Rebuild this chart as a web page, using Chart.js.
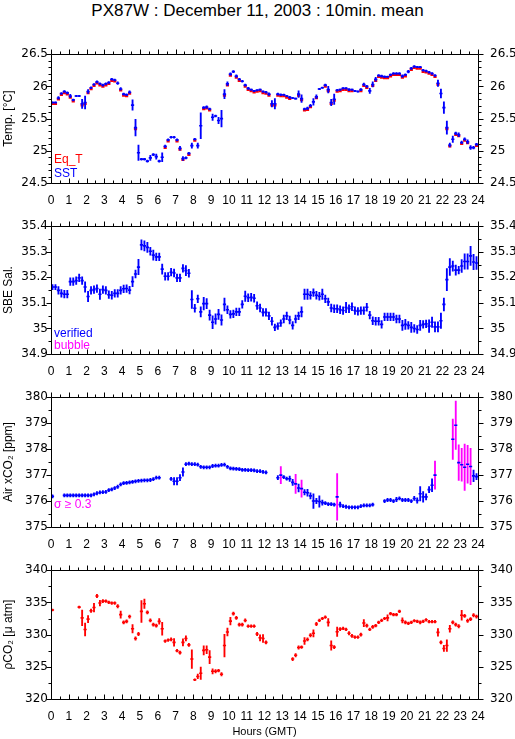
<!DOCTYPE html>
<html>
<head>
<meta charset="utf-8">
<title>PX87W : December 11, 2003 : 10min. mean</title>
<script src="https://cdn.jsdelivr.net/npm/chart.js@4.4.1/dist/chart.umd.min.js"></script>
<style>
  body { margin: 0; background: #fff; width: 515px; height: 739px; position: relative; overflow: hidden; }
  canvas { position: absolute; left: 0; }
  #title { position: absolute; left: 0; top: 1px; width: 515px; text-align: center;
           font: 17px "Liberation Sans", Arial, sans-serif; color: #000; }
</style>
</head>
<body>
<div id="title">PX87W : December 11, 2003 : 10min. mean</div>
<canvas id="tempChart" width="515" height="176" style="top:35px"></canvas>
<canvas id="salChart" width="515" height="175" style="top:207px"></canvas>
<canvas id="xco2Chart" width="515" height="177" style="top:378px"></canvas>
<canvas id="pco2Chart" width="515" height="188" style="top:551px"></canvas>
<script>
// 10 minute means, 144 slots over the day (null = no data)
const hoursPerSlot = 1 / 6;

// SST [degC]
const sst = [
  25.75, 25.75, 25.82, 25.89, 25.92, 25.90, 25.85, 25.79, 25.85, 25.85, 25.73, 25.75,
  25.92, 25.98, 26.03, 26.07, 26.04, 26.02, 26.04, 26.06, 26.11, 26.10, 26.05, 25.96,
  25.88, 25.87, 25.91, 25.71, 25.36, 24.97, 24.87, 24.87, 24.84, 24.89, 24.94, 24.91,
  24.84, 24.90, 25.07, 25.17, 25.21, 25.21, 25.17, 25.04, 24.88, 24.89, 24.96, 25.08,
  25.18, 25.08, 25.39, 25.67, 25.68, 25.65, 25.52, 25.54, 25.47, 25.50, 25.88, 26.04,
  26.19, 26.23, 26.16, 26.11, 26.08, 26.02, 25.97, 25.95, 25.93, 25.94, 25.95, 25.92,
  25.91, 25.88, 25.73, 25.73, 25.88, 25.87, 25.87, 25.85, 25.83, 25.82, 25.81, 25.88,
  25.81, 25.65, 25.66, 25.70, 25.76, 25.84, 25.96, 25.98, 26.02, 25.95, 25.75, 25.80,
  25.94, 25.95, 25.97, 25.97, 25.95, 25.95, 25.93, 25.92, 25.95, 26.03, 26.00, 25.93,
  26.03, 26.11, 26.17, 26.16, 26.15, 26.15, 26.18, 26.20, 26.20, 26.20, 26.16, 26.18,
  26.23, 26.28, 26.31, 26.30, 26.30, 26.25, 26.24, 26.22, 26.20, 26.17, 26.05, 25.89,
  25.67, 25.36, 25.09, 25.18, 25.27, 25.25, 25.13, 25.18, 25.14, 25.05, 25.05, 25.10
];
const sstErr = [
  .01, .01, .02, .015, .015, .015, .025, .015, .01, .01, .07, .10,
  .03, .015, .015, .015, .015, .015, .015, .015, .015, .015, .02, .02,
  .015, .015, .02, .08, .13, .12, .015, .015, .015, .04, .015, .04,
  .015, .07, .02, .015, .015, .015, .015, .03, .03, .015, .015, .04,
  .015, .04, .20, .015, .02, .015, .05, .015, .05, .13, .07, .03,
  .02, .015, .02, .015, .015, .015, .015, .01, .01, .01, .01, .01,
  .015, .02, .05, .08, .015, .015, .01, .01, .015, .01, .01, .05,
  .06, .015, .02, .02, .05, .03, .01, .01, .015, .05, .05, .08,
  .015, .01, .01, .01, .015, .01, .01, .01, .015, .02, .015, .04,
  .04, .03, .015, .015, .015, .01, .015, .015, .015, .015, .02, .015,
  .02, .015, .015, .01, .01, .015, .015, .015, .015, .015, .05, .07,
  .09, .10, .03, .05, .02, .03, .02, .02, .03, .03, .02, .015
];
// equilibrator temperature [degC]
const eqT = [
  25.73, 25.73, 25.80, 25.87, 25.90, 25.88, 25.83, 25.77, null, null, 25.71, 25.73,
  25.90, 25.96, 26.01, 26.05, 26.02, 26.00, 26.02, 26.04, 26.09, 26.08, null, 25.94,
  25.86, 25.85, 25.89, null, 25.34, null, null, null, null, null, null, null,
  null, null, 25.05, 25.15, null, null, 25.15, 25.02, 24.86, null, 24.94, null,
  25.16, null, null, 25.65, 25.66, 25.63, null, null, null, null, 25.86, 26.02,
  26.17, null, 26.14, 26.09, null, 26.00, 25.95, 25.93, 25.91, 25.92, 25.93, 25.90,
  25.89, 25.86, 25.71, 25.71, 25.86, 25.85, 25.85, 25.83, 25.81, null, null, 25.86,
  25.79, 25.63, 25.64, 25.68, null, 25.82, null, null, 26.00, 25.93, 25.73, 25.78,
  25.92, 25.93, 25.95, 25.95, 25.93, 25.93, null, null, 25.93, 26.01, 25.98, null,
  26.01, 26.09, 26.15, 26.14, 26.13, 26.13, 26.16, 26.18, 26.18, 26.18, 26.14, 26.16,
  null, 26.26, 26.29, 26.28, 26.28, 26.23, 26.22, 26.20, 26.18, 26.15, 26.03, null,
  null, 25.34, 25.07, null, 25.25, 25.23, 25.11, 25.16, 25.12, null, null, 25.08
];

// SBE salinity
const sal = [
  35.162, 35.162, 35.149, 35.137, 35.134, 35.134, 35.183, 35.183, 35.187, 35.198, 35.187, 35.162,
  35.125, 35.149, 35.152, 35.156, 35.134, 35.152, 35.149, 35.132, 35.130, 35.137, 35.137, 35.149,
  35.155, 35.156, 35.150, 35.183, 35.213, 35.240, 35.327, 35.323, 35.317, 35.302, 35.287, 35.280,
  35.280, 35.232, 35.204, 35.204, 35.220, 35.217, 35.198, 35.198, 35.235, 35.226, 35.216, 35.113,
  35.079, 35.116, 35.065, 35.097, 35.097, 35.052, 35.024, 35.037, 35.055, 35.033, 35.094, 35.073,
  35.055, 35.057, 35.065, 35.065, 35.094, 35.126, 35.120, 35.122, 35.118, 35.089, 35.080, 35.063,
  35.063, 35.049, 35.028, 35.004, 35.009, 35.021, 35.037, 35.049, 35.033, 35.012, 35.037, 35.049,
  35.065, 35.134, 35.134, 35.130, 35.140, 35.130, 35.126, 35.134, 35.116, 35.104, 35.080, 35.077,
  35.077, 35.073, 35.070, 35.082, 35.077, 35.085, 35.070, 35.067, 35.070, 35.070, 35.083, 35.052,
  35.030, 35.028, 35.028, 35.016, 35.045, 35.045, 35.045, 35.045, 35.037, 35.037, 35.012, 35.016,
  35.012, 35.004, 35.000, 34.996, 35.012, 35.016, 35.018, 35.009, 35.024, 35.006, 35.006, 35.030,
  35.094, 35.191, 35.240, 35.244, 35.228, 35.228, 35.244, 35.262, 35.262, 35.284, 35.260, 35.256
];
const salErr = [
  .01, .01, .015, .015, .015, .015, .015, .015, .015, .015, .015, .02,
  .02, .015, .015, .015, .02, .015, .015, .015, .015, .015, .015, .015,
  .015, .015, .015, .02, .015, .03, .02, .02, .02, .015, .02, .015,
  .015, .02, .015, .015, .015, .015, .015, .015, .015, .02, .015, .035,
  .015, .015, .02, .025, .02, .02, .025, .02, .02, .02, .025, .015,
  .015, .015, .015, .015, .015, .02, .015, .015, .015, .015, .015, .015,
  .015, .015, .015, .013, .013, .013, .015, .015, .015, .015, .015, .015,
  .02, .02, .02, .015, .015, .015, .015, .02, .015, .015, .015, .015,
  .015, .015, .015, .02, .015, .015, .015, .015, .015, .015, .015, .015,
  .015, .015, .015, .015, .015, .015, .015, .015, .015, .015, .02, .02,
  .015, .02, .015, .015, .02, .015, .015, .025, .02, .02, .02, .03,
  .025, .043, .033, .02, .02, .015, .025, .03, .03, .037, .03, .025
];

// Air xCO2 [ppm]
const xco2 = [
  376.18, null, null, null, 376.22, 376.22, 376.22, 376.22, 376.22, 376.22, 376.22, 376.22,
  376.22, 376.22, 376.26, 376.30, 376.33, 376.34, 376.35, 376.42, 376.45, 376.50, 376.55, 376.64,
  376.69, 376.70, 376.72, 376.74, 376.76, 376.78, 376.79, 376.80, 376.80, 376.81, 376.84, 376.90,
  376.90, null, null, null, 376.85, 376.76, 376.76, 376.90, 377.12, 377.42, 377.44, 377.42,
  377.42, 377.40, 377.32, 377.30, 377.30, 377.30, 377.35, 377.36, 377.36, 377.39, 377.40, 377.32,
  377.26, 377.25, 377.24, 377.23, 377.20, 377.20, 377.19, 377.19, 377.18, 377.15, 377.15, 377.12,
  377.10, null, null, null, 376.90, 377.00, 376.92, 376.86, 376.86, 376.72, 376.66, 376.50,
  376.48, 376.34, 376.32, 376.20, 376.00, 376.00, 375.98, 375.94, 375.92, 375.88, 375.88, 375.86,
  376.16, 375.86, 375.80, 375.78, 375.76, 375.76, 375.76, 375.76, 375.80, 375.83, 375.83, 375.83,
  375.86, null, null, null, 376.00, 376.04, 376.04, 376.00, 376.06, 376.10, 376.04, 376.04,
  376.04, 376.00, 376.10, 376.02, 376.28, 376.16, 376.16, 376.44, 376.61, 377.00, null, null,
  null, null, null, 378.38, 378.92, 377.48, 377.40, 377.30, 377.42, 377.33, 376.97, 376.94
];
const xco2Err = [
  .06, null, null, null, .06, .06, .06, .06, .06, .06, .06, .06,
  .06, .06, .06, .06, .06, .06, .06, .06, .06, .06, .06, .06,
  .06, .06, .06, .06, .06, .06, .06, .06, .06, .06, .06, .06,
  .06, null, null, null, .06, .14, .14, .12, .16, .06, .06, .06,
  .06, .06, .06, .06, .06, .06, .06, .06, .06, .06, .06, .06,
  .06, .06, .06, .06, .06, .06, .06, .06, .06, .06, .06, .06,
  .06, null, null, null, .08, .33, .06, .06, .10, .12, .37, .15,
  .33, .10, .13, .12, .28, .10, .22, .10, .06, .06, .06, .06,
  .90, .10, .06, .06, .06, .06, .06, .06, .06, .06, .06, .06,
  .06, null, null, null, .06, .06, .06, .06, .08, .06, .06, .06,
  .06, .06, .08, .10, .28, .20, .12, .12, .25, .54, null, null,
  null, null, null, .78, .93, .69, .63, .89, .73, .70, .22, .12
];
const sigmaLimit = 0.3;

// pCO2 [uatm]
const pco2 = [
  333.83, null, null, null, null, null, null, null, null, 334.26, 332.6, 330.8,
  332.4, 333.7, 334.2, 336.0, 334.9, 335.2, 335.2, 335.0, 334.9, 334.9, 334.4, 333.1,
  331.9, 332.05, 332.8, 330.9, 329.4, 330.1, 333.6, 334.8, 333.45, 332.2, 331.55, 331.4,
  332.05, 330.9, 329.0, 329.15, 329.25, 328.8, 327.5, 327.2, 328.8, 329.4, 328.4, 326.2,
  323.0, 323.5, 324.0, 327.55, 327.65, 326.5, 324.3, 324.3, 324.4, 323.85, 328.3, 330.4,
  332.1, 333.25, 332.6, 331.55, 331.55, 332.2, 331.3, 331.3, 331.3, 330.1, 329.5, 329.4,
  328.8, null, null, null, null, null, null, null, null, 326.2, 326.8, 328.0,
  328.05, 329.0, 329.25, 329.9, 330.2, 331.65, 332.2, 332.5, 332.7, 331.9, 328.3, 328.05,
  330.45, 330.85, 330.95, 330.8, 330.2, 329.8, 329.6, 329.6, 330.0, 331.8, 331.4, 330.8,
  331.2, 331.4, 331.9, 332.2, 332.5, 332.6, 333.25, 333.1, 333.1, 333.6, 332.2, 331.9,
  331.75, 331.9, 332.15, 332.05, 331.9, 332.05, 332.3, 332.0, 332.0, 332.0, 330.35, 328.8,
  327.85, 328.3, 330.9, 331.9, 331.55, 331.3, 333.0, 332.9, 332.15, 332.4, 333.0, 332.8
];
const pco2Err = [
  .15, null, null, null, null, null, null, null, null, .15, 1.2, 1.0,
  .55, .25, .67, .25, .43, .25, .2, .2, .2, .2, .25, .55,
  .25, .25, .25, .65, .25, .25, 1.7, .72, .25, .25, .25, .25,
  .43, 1.0, .2, .2, .25, .6, .2, .25, .55, .4, .25, 1.45,
  .15, .36, .96, .72, .6, 1.0, .4, .25, .2, .25, 1.76, .6,
  .6, .25, .25, .25, .25, .25, .2, .2, .2, .25, .48, .6,
  .25, null, null, null, null, null, null, null, null, .25, .25, .25,
  .2, .53, .25, .25, .55, .25, .2, .2, .2, .6, .72, .25,
  .72, .25, .2, .2, .25, .25, .2, .2, .25, .55, .25, .2,
  .25, .2, .2, .2, .2, .48, .2, .2, .2, .2, .4, .25,
  .2, .2, .2, .2, .25, .2, .2, .2, .2, .2, .6, .25,
  .48, .9, .53, .25, .25, .25, .77, .25, .25, .25, .25, .25
];

const blue = '#0000ff';
const red = '#ff0000';
const magenta = '#ff00ff';
const yTickFont = { family: 'DejaVu Sans', size: 12 };
const xTickFont = { family: 'Liberation Sans', size: 12 };
const labelFont = { family: 'Liberation Sans', size: 12 };

function slotHour(k) {
  return (k + 0.5) * hoursPerSlot;
}

function dashPoints(values) {
  let pts = [];
  values.forEach((v, k) => {
    if (v !== null) pts.push({ x: slotHour(k), y: v });
  });
  return pts;
}

function errorBars(values, errs) {
  let bars = [];
  values.forEach((v, k) => {
    if (v !== null) bars.push({ x: slotHour(k), y: [v - errs[k], v + errs[k]], s: errs[k] });
  });
  return bars;
}

// the 10 minute mean as a short flat dash
function dashSet(values, color, width) {
  return {
    type: 'scatter',
    data: dashPoints(values),
    pointStyle: 'line',
    pointRadius: 1.6,
    pointBorderWidth: width || 1.6,
    borderColor: color,
    backgroundColor: color,
    showLine: false
  };
}

// standard deviation as a thin floating bar
function errorSet(values, errs, color) {
  return {
    type: 'bar',
    data: errorBars(values, errs),
    backgroundColor: color,
    borderWidth: 0,
    barThickness: 1.2,
    maxBarThickness: 1.2,
    grouped: false
  };
}

// 26.0 -> "26", 35.0 -> "35"
function plainNumber(value) {
  return String(parseFloat(Number(value).toFixed(3)));
}

// frame, tick marks and the small legend texts
const frameTicks = {
  id: 'frameTicks',
  afterDraw(chart, args, opts) {
    const { ctx, chartArea: a, scales } = chart;
    const x = scales.x, y = scales.y;
    const left = Math.round(a.left) + 0.5, right = Math.round(a.right) + 0.5;
    const top = Math.round(a.top) + 0.5, bottom = Math.round(a.bottom) + 0.5;
    ctx.save();
    ctx.strokeStyle = '#000';
    ctx.lineWidth = 1;
    ctx.beginPath();
    ctx.rect(left, top, right - left, bottom - top);
    for (let i = 0; i <= 48; i++) {
      const px = Math.round(x.getPixelForValue(i / 2)) + 0.5;
      const len = i % 2 === 0 ? 5 : 3;
      ctx.moveTo(px, bottom); ctx.lineTo(px, bottom - len);
      ctx.moveTo(px, top); ctx.lineTo(px, top - len);
    }
    const n = Math.round((y.max - y.min) / opts.minor);
    const every = Math.round(opts.major / opts.minor);
    for (let i = 0; i <= n; i++) {
      const py = Math.round(y.getPixelForValue(y.min + i * opts.minor)) + 0.5;
      const len = i % every === 0 ? 5 : 3;
      ctx.moveTo(left - len, py); ctx.lineTo(left, py);
      ctx.moveTo(right, py); ctx.lineTo(right + len, py);
    }
    ctx.stroke();
    ctx.font = '12px "Liberation Sans", Arial, sans-serif';
    ctx.textBaseline = 'alphabetic';
    (opts.notes || []).forEach(note => {
      ctx.fillStyle = note.color;
      ctx.fillText(note.text, a.left + 3, a.bottom + note.dy);
    });
    ctx.restore();
  }
};

function makeChart(id, p) {
  const yCommon = {
    type: 'linear',
    min: p.min,
    max: p.max,
    grid: { display: false, drawTicks: false },
    border: { display: false }
  };
  return new Chart(document.getElementById(id), {
    type: 'scatter',
    data: { datasets: p.datasets },
    options: {
      responsive: false,
      animation: false,
      events: [],
      layout: { padding: { top: 10, left: 0, right: 0, bottom: 0 } },
      plugins: {
        legend: { display: false },
        tooltip: { enabled: false },
        frameTicks: { major: p.step, minor: p.minor, notes: p.notes }
      },
      scales: {
        x: {
          type: 'linear',
          min: 0,
          max: 24,
          offset: false,
          grid: { display: false, drawTicks: false },
          border: { display: false },
          ticks: { stepSize: 1, autoSkip: false, maxRotation: 0, padding: 10, color: '#000', font: xTickFont },
          title: { display: !!p.xTitle, text: p.xTitle || '', color: '#000',
                   font: { family: 'Liberation Sans', size: 11 }, padding: 0 },
          afterFit(scale) { scale.height = p.xHeight; }
        },
        y: Object.assign({}, yCommon, {
          position: 'left',
          ticks: { stepSize: p.step, padding: 3, color: '#000', font: yTickFont, callback: plainNumber },
          title: { display: true, text: p.yTitle, color: '#000', font: labelFont, padding: { top: 1, bottom: 0 } },
          afterFit(scale) { scale.width = 51; }
        }),
        y2: Object.assign({}, yCommon, {
          position: 'right',
          ticks: { stepSize: p.step, padding: 12, color: '#000', font: yTickFont, callback: plainNumber },
          afterFit(scale) { scale.width = 37; }
        })
      }
    },
    plugins: [frameTicks]
  });
}

makeChart('tempChart', {
  min: 24.5, max: 26.5, step: 0.5, minor: 0.1,
  yTitle: 'Temp. [°C]', xHeight: 28,
  datasets: [dashSet(sst, blue), errorSet(sst, sstErr, blue), dashSet(eqT, red, 2.6)],
  notes: [{ text: 'Eq_T', color: red, dy: -20 }, { text: 'SST', color: blue, dy: -6 }]
});

makeChart('salChart', {
  min: 34.9, max: 35.4, step: 0.1, minor: 0.05,
  yTitle: 'SBE Sal.', xHeight: 28,
  datasets: [dashSet(sal, blue), errorSet(sal, salErr, blue)],
  notes: [{ text: 'verified', color: blue, dy: -17 }, { text: 'bubble', color: magenta, dy: -5 }]
});

makeChart('xco2Chart', {
  min: 375, max: 380, step: 1, minor: 0.5,
  yTitle: 'Air xCO₂ [ppm]', xHeight: 28,
  datasets: [
    dashSet(xco2, blue),
    errorSet(xco2, xco2Err, ctx => (ctx.raw && ctx.raw.s >= sigmaLimit) ? magenta : blue)
  ],
  notes: [{ text: 'σ ≥ 0.3', color: magenta, dy: -19 }]
});

makeChart('pco2Chart', {
  min: 320, max: 340, step: 5, minor: 2.5,
  yTitle: 'ρCO₂ [μ atm]', xHeight: 40, xTitle: 'Hours (GMT)',
  datasets: [dashSet(pco2, red), errorSet(pco2, pco2Err, red)],
  notes: []
});
</script>
</body>
</html>
